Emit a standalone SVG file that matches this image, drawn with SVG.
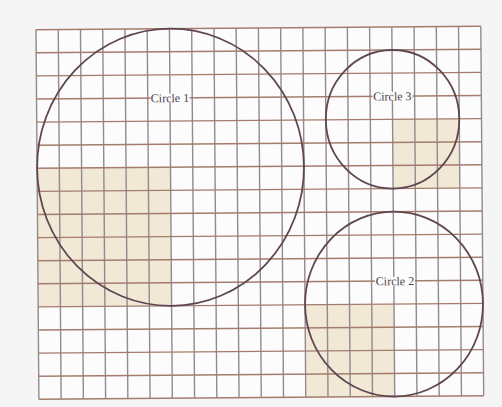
<svg xmlns="http://www.w3.org/2000/svg" width="502" height="407" viewBox="0 0 502 407">
  <defs>
    <style>
      .vl { stroke: #928a8e; stroke-width: 1.4; fill: none; }
      .hl { stroke: #a47c6c; stroke-width: 1.4; fill: none; }
      .shade { fill: #f1e8d6; }
      .circ { fill: none; stroke: #5f4652; stroke-width: 1.8; }
      .bg { fill: #fcfcfc; }
      .lbl { font-family: "Liberation Serif", "DejaVu Serif", serif; font-size: 12px; fill: #4f4250; text-anchor: middle; }
    </style>
  </defs>
  <rect x="0" y="0" width="502" height="407" fill="#f5f5f5"/>
  <g transform="translate(36,29.7) rotate(-0.45)">
    <rect x="0" y="0" width="444.8" height="369.6" fill="#fcfcfc"/>
    <g id="shading">
      <rect class="shade" x="0" y="138.6" width="133.44" height="138.6"/>
      <rect class="shade" x="355.84" y="92.4" width="66.72" height="69.3"/>
      <rect class="shade" x="266.88" y="277.2" width="88.96" height="92.4"/>
    </g>
    <g id="grid">
      <path class="vl" d="M0,0V369.6M22.24,0V369.6M44.48,0V369.6M66.72,0V369.6M88.96,0V369.6M111.2,0V369.6M133.44,0V369.6M155.68,0V369.6M177.92,0V369.6M200.16,0V369.6M222.4,0V369.6M244.64,0V369.6M266.88,0V369.6M289.12,0V369.6M311.36,0V369.6M333.6,0V369.6M355.84,0V369.6M378.08,0V369.6M400.32,0V369.6M422.56,0V369.6M444.8,0V369.6"/>
      <path class="hl" d="M0,0H444.8M0,23.1H444.8M0,46.2H444.8M0,69.3H444.8M0,92.4H444.8M0,115.5H444.8M0,138.6H444.8M0,161.7H444.8M0,184.8H444.8M0,207.9H444.8M0,231H444.8M0,254.1H444.8M0,277.2H444.8M0,300.3H444.8M0,323.4H444.8M0,346.5H444.8M0,369.6H444.8"/>
    </g>
    <g id="circle1">
      <ellipse class="circ" cx="133.44" cy="138.6" rx="133.44" ry="138.6"/>
      <rect class="bg" x="114" y="65" width="39" height="9"/>
      <text class="lbl" x="133.44" y="73.5">Circle 1</text>
    </g>
    <g id="circle3">
      <ellipse class="circ" cx="355.84" cy="92.4" rx="66.72" ry="69.3"/>
      <rect class="bg" x="336" y="65" width="40" height="9"/>
      <text class="lbl" x="355.84" y="73.5">Circle 3</text>
    </g>
    <g id="circle2">
      <ellipse class="circ" cx="355.84" cy="277.2" rx="88.96" ry="92.4"/>
      <rect class="bg" x="337" y="250" width="40" height="9"/>
      <text class="lbl" x="357" y="258.3">Circle 2</text>
    </g>
    <g id="connectors"/>
  </g>
</svg>
